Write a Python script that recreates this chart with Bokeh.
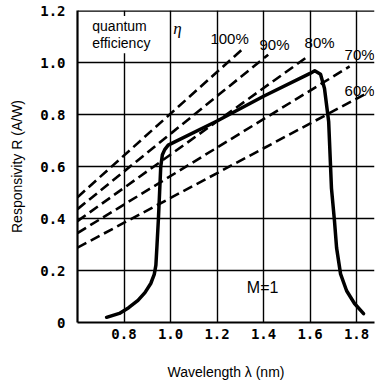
from bokeh.plotting import figure
from bokeh.models import Range1d, FixedTicker, Span, Label, Spacer
from bokeh.layouts import row
from bokeh.embed import file_html
from bokeh.resources import INLINE

# Solid responsivity curve (M=1)
curve_wl = [0.725, 0.78, 0.82, 0.86, 0.89, 0.915, 0.93, 0.937, 0.942, 0.948, 0.953, 0.958,
            0.965, 0.975, 0.99, 1.2, 1.4, 1.6, 1.62, 1.645, 1.662, 1.68, 1.692, 1.705,
            1.714, 1.731, 1.757, 1.791, 1.83]
curve_r = [0.02, 0.035, 0.057, 0.085, 0.115, 0.15, 0.185, 0.22, 0.3, 0.4, 0.5, 0.6,
           0.645, 0.665, 0.682, 0.775, 0.87, 0.958, 0.968, 0.955, 0.9, 0.772, 0.516, 0.39,
           0.287, 0.187, 0.122, 0.073, 0.034]

# Quantum-efficiency dashed lines (start / end points)
eff_labels = ["100%", "90%", "80%", "70%", "60%"]
eff_wl_start = [0.6, 0.6, 0.6, 0.6, 0.6]
eff_r_start = [0.482, 0.436, 0.39, 0.344, 0.288]
eff_wl_end = [1.314, 1.42, 1.585, 1.77, 1.84]
eff_r_end = [1.055, 1.03, 1.02, 0.985, 0.88]
eff_label_wl = [1.254, 1.447, 1.641, 1.813, 1.813]
eff_label_r = [1.094, 1.071, 1.078, 1.029, 0.891]

x_ticks = [0.8, 1.0, 1.2, 1.4, 1.6, 1.8]
x_tick_labels = ["0.8", "1.0", "1.2", "1.4", "1.6", "1.8"]
y_ticks = [0, 0.2, 0.4, 0.6, 0.8, 1.0, 1.2]
y_tick_labels = ["0", "0.2", "0.4", "0.6", "0.8", "1.0", "1.2"]

p = figure(frame_width=297, frame_height=312, output_backend="svg", toolbar_location=None,
           x_range=Range1d(0.6, 1.877), y_range=Range1d(0, 1.2),
           min_border_left=60, min_border_right=2, min_border_top=10, min_border_bottom=20)
p.outline_line_color = None
p.background_fill_color = "white"

for ax in (p.xaxis[0], p.yaxis[0]):
    ax.axis_line_width = 2.2
    ax.axis_line_color = "black"
    ax.major_tick_line_color = None
    ax.minor_tick_line_color = None
    ax.major_label_text_font = "DejaVu Sans Mono"
    ax.major_label_text_font_style = "bold"
    ax.major_label_text_font_size = "14px"
    ax.major_label_text_color = "black"
    ax.axis_label_text_font = "Liberation Sans"
    ax.axis_label_text_font_style = "normal"
    ax.axis_label_text_font_size = "14px"
    ax.axis_label_text_color = "black"

p.xaxis.major_label_standoff = 0
p.yaxis.major_label_standoff = 6
p.xaxis.ticker = FixedTicker(ticks=x_ticks)
p.xaxis.major_label_overrides = dict(zip(x_ticks, x_tick_labels))
p.yaxis.ticker = FixedTicker(ticks=y_ticks)
p.yaxis.major_label_overrides = dict(zip(y_ticks, y_tick_labels))
p.xaxis.axis_label = "Wavelength λ (nm)"
p.xaxis.axis_label_standoff = 22
p.yaxis.axis_label = "Responsivity R (A/W)"
p.yaxis.axis_label_standoff = 12

p.xgrid.grid_line_color = "black"
p.ygrid.grid_line_color = "black"
p.xgrid.grid_line_width = 1.4
p.ygrid.grid_line_width = 1.4

p.add_layout(Span(location=1.2, dimension="width", line_color="black", line_width=2.5))

for i in range(len(eff_labels)):
    p.line([eff_wl_start[i], eff_wl_end[i]], [eff_r_start[i], eff_r_end[i]],
           line_color="black", line_width=2.6, line_dash="10 5")
    p.add_layout(Label(x=eff_label_wl[i], y=eff_label_r[i], text=eff_labels[i],
                       text_font="Liberation Sans", text_font_size="15px",
                       text_align="center", text_baseline="middle", text_color="black"))

p.line(curve_wl, curve_r, line_color="black", line_width=3.5, line_join="round", line_cap="round")

p.add_layout(Label(x=0.655, y=1.14, text="quantum", text_font="Liberation Sans",
                   text_font_size="14px", text_align="left", text_baseline="middle",
                   text_color="black", background_fill_color="white", padding=2))
p.add_layout(Label(x=0.655, y=1.074, text="efficiency", text_font="Liberation Sans",
                   text_font_size="14px", text_align="left", text_baseline="middle",
                   text_color="black", background_fill_color="white", padding=2))
p.add_layout(Label(x=1.03, y=1.13, text="η", text_font="Liberation Serif",
                   text_font_style="italic", text_font_size="17px", text_align="center",
                   text_baseline="middle", text_color="black"))
p.add_layout(Label(x=1.396, y=0.134, text="M=1", text_font="Liberation Sans",
                   text_font_size="16px", text_align="center", text_baseline="middle",
                   text_color="black"))

layout = row(Spacer(width=6), p)
open("out.html", "w").write(file_html(layout, INLINE))
